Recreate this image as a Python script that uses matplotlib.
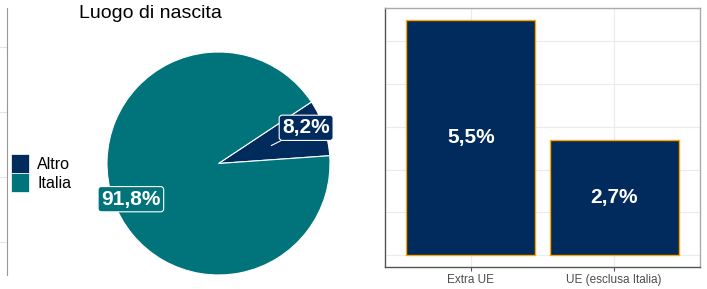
import numpy as np
import matplotlib
matplotlib.use("Agg")
import matplotlib.pyplot as plt
from matplotlib.patches import Patch

plt.rcParams['font.family'] = ['Liberation Sans', 'DejaVu Sans']

# pie data
pie_labels = ["Altro", "Italia"]
pie_values = [8.2, 91.8]
pie_text = ["8,2%", "91,8%"]
pie_colors = ["#002B5C", "#00747A"]

# bar data
bar_cats = ["Extra UE", "UE (esclusa Italia)"]
bar_values = [5.5, 2.7]
bar_text = ["5,5%", "2,7%"]

W, H = 707, 289
fig = plt.figure(figsize=(W / 100, H / 100), dpi=100)

def box(x0, y0, x1, y1):
    # pixel box (top-left origin) -> figure coords
    return [x0 / W, (H - y1) / H, (x1 - x0) / W, (y1 - y0) / H]

# leftover edge of the previous panel
ax0 = fig.add_axes(box(-60, 8, 6.5, 275))
ax0.set_xlim(0, 1)
ax0.set_ylim(0, 4.1)
ax0.set_yticks([0.5, 1.5, 2.5, 3.5])
ax0.grid(axis='y', color='#E5E5E5', lw=0.8)
ax0.tick_params(left=False, bottom=False, labelleft=False, labelbottom=False)
for s in ['left', 'top', 'bottom']:
    ax0.spines[s].set_visible(False)
ax0.spines['right'].set_color('#999999')

# pie
axp = fig.add_axes(box(107, 52, 330, 275))
start = 4
wedges, _ = axp.pie(pie_values, colors=pie_colors, startangle=start, counterclock=True,
                    radius=1, wedgeprops=dict(edgecolor='white', linewidth=0.8))
axp.set_xlim(-1, 1)
axp.set_ylim(-1, 1)
axp.set_aspect('equal')
axp.axis('off')

nudge = [0.05, -0.05]
cum = start
for i, v in enumerate(pie_values):
    mid = np.deg2rad(cum + v * 3.6 / 2)
    cum += v * 3.6
    lx, ly = 0.83 * np.cos(mid), 0.84 * np.sin(mid) + nudge[i]
    bb = dict(boxstyle='round,pad=0.15,rounding_size=0.15', fc=pie_colors[i], ec='white', lw=0.8)
    if v < 20:
        axp.annotate(pie_text[i], xy=(0.5 * np.cos(mid), 0.5 * np.sin(mid)), xytext=(lx, ly),
                     ha='center', va='center', color='white', fontsize=15, fontweight='bold',
                     bbox=bb, arrowprops=dict(arrowstyle='-', color='white', lw=0.8,
                                              shrinkA=0, shrinkB=0))
    else:
        axp.text(lx, ly, pie_text[i], ha='center', va='center', color='white',
                 fontsize=15, fontweight='bold', bbox=bb)

fig.text(79 / W, 1 - 14 / H, "Luogo di nascita", fontsize=14, ha='left', va='center', color='black')

handles = [Patch(facecolor=c, edgecolor='white', lw=0.5) for c in pie_colors]
fig.legend(handles, pie_labels, loc='center left', bbox_to_anchor=(11 / W, 1 - 173 / H),
           frameon=False, fontsize=11.5, handlelength=1.15, handleheight=1.4,
           labelspacing=0.05, handletextpad=0.5, borderpad=0, borderaxespad=0)

# bars
axb = fig.add_axes(box(385, 8, 700, 267))
x = np.arange(1, len(bar_cats) + 1)
axb.bar(x, bar_values, width=0.9, color='#002B5C', edgecolor='#FFA500', linewidth=1.0, zorder=3)
for xi, v, t in zip(x, bar_values, bar_text):
    axb.text(xi, v / 2, t, ha='center', va='center', color='white', fontsize=15,
             fontweight='bold', zorder=4)
axb.set_xlim(0.4, 2.6)
axb.set_ylim(-0.275, 5.775)
axb.set_yticks(np.arange(0, 6, 1))
axb.set_xticks(x)
axb.set_xticklabels(bar_cats, fontsize=8.5, color='#4D4D4D')
axb.tick_params(axis='y', left=False, labelleft=False)
axb.tick_params(axis='x', length=3, color='#555555', pad=2)
axb.grid(color='#EBEBEB', lw=0.8, zorder=0)
axb.set_axisbelow(True)
for s in ['left', 'bottom']:
    axb.spines[s].set_color('#555555')
    axb.spines[s].set_linewidth(1.0)
for s in ['top', 'right']:
    axb.spines[s].set_color('#AAAAAA')
    axb.spines[s].set_linewidth(1.0)

fig.savefig("out.png", dpi=100)
